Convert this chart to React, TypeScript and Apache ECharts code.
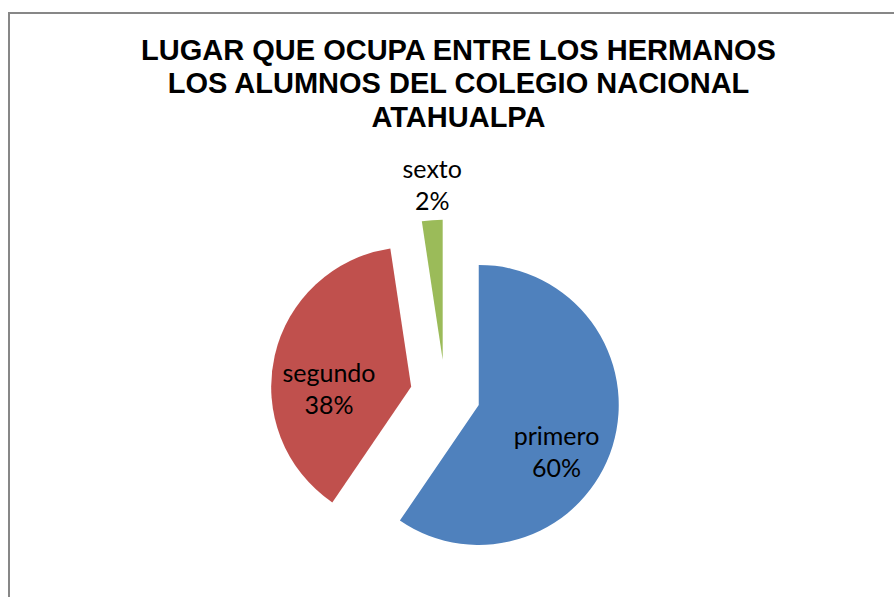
import React, { useEffect, useRef } from "react";
import * as echarts from "echarts";

const titleLines = [
  "LUGAR QUE OCUPA ENTRE LOS HERMANOS",
  "LOS ALUMNOS DEL COLEGIO NACIONAL",
  "ATAHUALPA",
];
const categories = ["primero", "segundo", "sexto"];
// student counts (shown as rounded percentages: 60%, 38%, 2%)
const values = [25, 16, 1];
const colors = ["#4F81BD", "#C0504D", "#9BBB59"];
// label nudges (dx, dy) from the default inside position
const labelShiftX = [8, -11, -5];
const labelShiftY = [25, 17, -103];

export default function App() {
  const ref = useRef<HTMLDivElement>(null);
  useEffect(() => {
    document.body.style.margin = "0";
    if (!ref.current) return;
    const chart = echarts.init(ref.current, null, { renderer: "svg" });
    chart.setOption({
      animation: false,
      backgroundColor: "#ffffff",
      title: {
        text: titleLines.join("\n"),
        left: 458.5,
        top: 33,
        padding: 0,
        textAlign: "center",
        textStyle: {
          fontFamily: "Liberation Sans",
          fontWeight: "bold",
          fontSize: 29,
          lineHeight: 33.5,
          color: "#000000",
        },
      },
      graphic: [
        {
          type: "rect",
          shape: { x: 9, y: 13, width: 1200, height: 1200 },
          style: { fill: "none", stroke: "#878787", lineWidth: 2 },
          silent: true,
        },
      ],
      series: [
        {
          type: "pie",
          center: [445.3, 394.6],
          radius: 140,
          startAngle: 90,
          clockwise: true,
          selectedMode: "multiple",
          selectedOffset: 35,
          avoidLabelOverlap: false,
          percentPrecision: 0,
          label: {
            show: true,
            position: "inside",
            formatter: "{b}\n{d}%",
            fontFamily: "Lato",
            fontSize: 25,
            lineHeight: 32,
            color: "#000000",
          },
          labelLine: { show: false },
          labelLayout: (params: any) => ({
            dx: labelShiftX[params.dataIndex],
            dy: labelShiftY[params.dataIndex],
          }),
          itemStyle: { borderWidth: 0 },
          select: { itemStyle: { borderWidth: 0 } },
          emphasis: { disabled: true },
          data: categories.map((name, i) => ({
            name,
            value: values[i],
            selected: true,
            itemStyle: { color: colors[i] },
          })),
        },
      ],
    });
    return () => chart.dispose();
  }, []);
  return <div ref={ref} style={{ width: 894, height: 597 }} />;
}
